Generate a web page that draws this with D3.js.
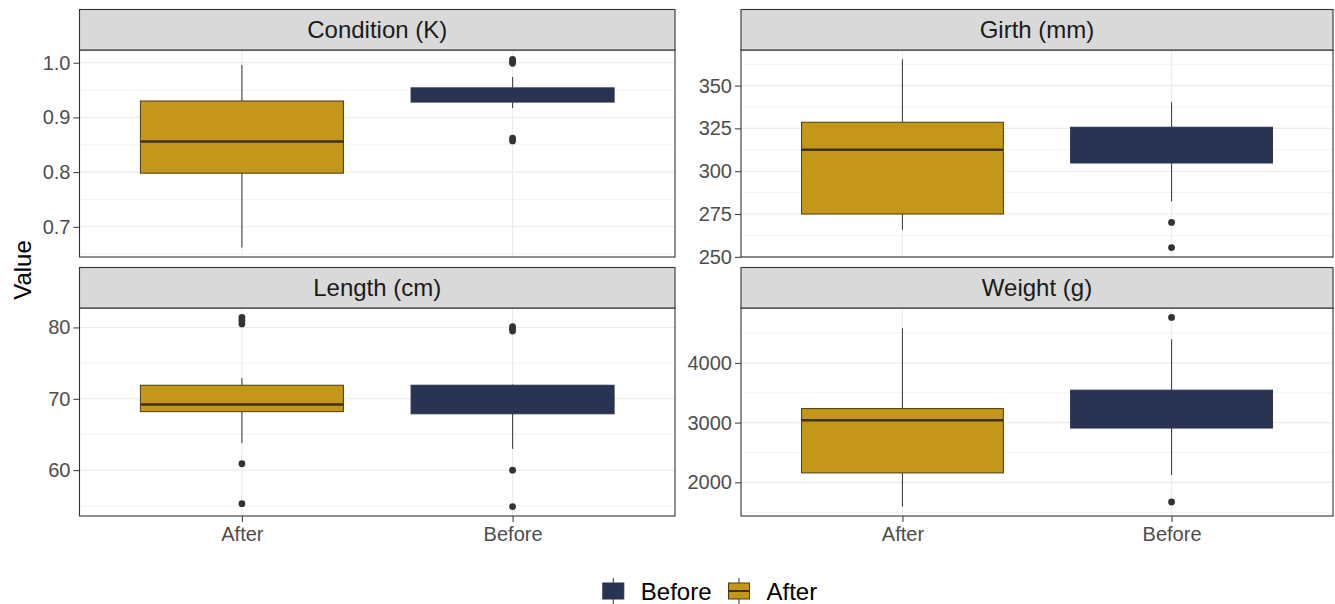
<!DOCTYPE html>
<html lang="en">
<head>
  <meta charset="UTF-8" />
  <title>Before / After boxplots</title>
  <script src="https://d3js.org/d3.v7.min.js"></script>
  <style>
    body {
      margin: 0;
      background: #ffffff;
      font-family: 'Liberation Sans', Arial, sans-serif;
    }
    svg text {
      font-family: 'Liberation Sans', Arial, sans-serif;
    }
  </style>
</head>
<body>
  <div id="chart"></div>

  <script>
    // groups on the x axis and facet titles
    const groups = ["After", "Before"];
    const facetNames = ["Condition (K)", "Girth (mm)", "Length (cm)", "Weight (g)"];

    // box stats: [lower whisker, Q1, median, Q3, upper whisker]
    const conditionAfter = [0.662, 0.798, 0.856, 0.930, 0.996];
    const conditionBefore = [0.917, 0.928, 0.941, 0.954, 0.974];
    const girthAfter = [265.8, 275.0, 312.6, 328.6, 365.3];
    const girthBefore = [282.4, 304.8, 315.0, 325.7, 340.3];
    const lengthAfter = [63.8, 68.2, 69.2, 71.9, 72.9];
    const lengthBefore = [63.0, 67.9, 70.0, 71.9, 72.0];
    const weightAfter = [1595, 2158, 3039, 3235, 4578];
    const weightBefore = [2124, 2909, 3200, 3543, 4393];

    // outliers
    const conditionOutAfter = [];
    const conditionOutBefore = [1.006, 1.003, 0.999, 0.862, 0.857];
    const girthOutAfter = [];
    const girthOutBefore = [270.1, 255.4];
    const lengthOutAfter = [81.4, 81.0, 80.5, 60.9, 55.3];
    const lengthOutBefore = [80.1, 79.8, 79.5, 60.0, 54.9];
    const weightOutAfter = [];
    const weightOutBefore = [4760, 1671];

    // y tick labels per facet
    const conditionTicks = [0.7, 0.8, 0.9, 1.0];
    const girthTicks = [250, 275, 300, 325, 350];
    const lengthTicks = [60, 70, 80];
    const weightTicks = [2000, 3000, 4000];

    // legend order
    const legendOrder = ["Before", "After"];

    const colors = { After: "#C4961A", Before: "#293352" };
    const outline = { After: "#4a3c14", Before: "#293352" };

    const facets = [
      { name: facetNames[0], stats: { After: conditionAfter, Before: conditionBefore },
        out: { After: conditionOutAfter, Before: conditionOutBefore }, ticks: conditionTicks, fmt: d3.format(".1f") },
      { name: facetNames[1], stats: { After: girthAfter, Before: girthBefore },
        out: { After: girthOutAfter, Before: girthOutBefore }, ticks: girthTicks, fmt: d3.format("d") },
      { name: facetNames[2], stats: { After: lengthAfter, Before: lengthBefore },
        out: { After: lengthOutAfter, Before: lengthOutBefore }, ticks: lengthTicks, fmt: d3.format("d") },
      { name: facetNames[3], stats: { After: weightAfter, Before: weightBefore },
        out: { After: weightOutAfter, Before: weightOutBefore }, ticks: weightTicks, fmt: d3.format("d") }
    ];

    const width = 1335;
    const height = 604;

    // panel layout (2 x 2 facet grid)
    const cols = [[79.5, 675], [741, 1333]];
    const rows = [
      { strip: 9.5, top: 50, bottom: 257 },
      { strip: 267.5, top: 308, bottom: 516 }
    ];

    const svg = d3.select("#chart").append("svg")
      .attr("width", width)
      .attr("height", height);

    svg.append("rect")
      .attr("width", width)
      .attr("height", height)
      .attr("fill", "#ffffff");

    facets.forEach((f, i) => {
      const [x0, x1] = cols[i % 2];
      const row = rows[Math.floor(i / 2)];
      const isBottom = Math.floor(i / 2) === 1;

      // free y scale with 5% expansion like ggplot
      const all = groups.flatMap(g => f.stats[g].concat(f.out[g]));
      const lo = d3.min(all), hi = d3.max(all);
      const pad = (hi - lo) * 0.05;
      const y = d3.scaleLinear()
        .domain([lo - pad, hi + pad])
        .range([row.bottom, row.top]);

      const x = d3.scalePoint()
        .domain(groups)
        .range([x0, x1])
        .padding(0.6);
      const boxW = x.step() * 0.75;

      const g = svg.append("g");

      // minor grid lines halfway between ticks
      const step = f.ticks[1] - f.ticks[0];
      const minors = [f.ticks[0] - step / 2].concat(f.ticks.map(t => t + step / 2))
        .filter(v => v >= y.domain()[0] && v <= y.domain()[1]);

      g.selectAll(".minor")
        .data(minors)
        .enter().append("line")
        .attr("x1", x0).attr("x2", x1)
        .attr("y1", d => y(d)).attr("y2", d => y(d))
        .attr("stroke", "#ebebeb")
        .attr("stroke-width", 0.6);

      g.selectAll(".major")
        .data(f.ticks.filter(v => v >= y.domain()[0] && v <= y.domain()[1]))
        .enter().append("line")
        .attr("x1", x0).attr("x2", x1)
        .attr("y1", d => y(d)).attr("y2", d => y(d))
        .attr("stroke", "#ebebeb")
        .attr("stroke-width", 1.1);

      g.selectAll(".vgrid")
        .data(groups)
        .enter().append("line")
        .attr("x1", d => x(d)).attr("x2", d => x(d))
        .attr("y1", row.top).attr("y2", row.bottom)
        .attr("stroke", "#ebebeb")
        .attr("stroke-width", 1.1);

      // boxes
      groups.forEach(grp => {
        const [wl, q1, med, q3, wh] = f.stats[grp];
        const cx = x(grp);

        g.append("line")
          .attr("x1", cx).attr("x2", cx)
          .attr("y1", y(wh)).attr("y2", y(q3))
          .attr("stroke", "#444444")
          .attr("stroke-width", 1.1);
        g.append("line")
          .attr("x1", cx).attr("x2", cx)
          .attr("y1", y(q1)).attr("y2", y(wl))
          .attr("stroke", "#444444")
          .attr("stroke-width", 1.1);

        g.append("rect")
          .attr("x", cx - boxW / 2)
          .attr("y", y(q3))
          .attr("width", boxW)
          .attr("height", y(q1) - y(q3))
          .attr("fill", colors[grp])
          .attr("stroke", outline[grp])
          .attr("stroke-width", 1);

        g.append("line")
          .attr("x1", cx - boxW / 2).attr("x2", cx + boxW / 2)
          .attr("y1", y(med)).attr("y2", y(med))
          .attr("stroke", grp === "After" ? "#3f3210" : outline[grp])
          .attr("stroke-width", 2.5);

        g.selectAll(".out-" + grp)
          .data(f.out[grp])
          .enter().append("circle")
          .attr("cx", cx)
          .attr("cy", d => y(d))
          .attr("r", 3.4)
          .attr("fill", "#333333");
      });

      // panel border
      g.append("rect")
        .attr("x", x0).attr("y", row.top)
        .attr("width", x1 - x0).attr("height", row.bottom - row.top)
        .attr("fill", "none")
        .attr("stroke", "#333333")
        .attr("stroke-width", 1.1);

      // strip
      g.append("rect")
        .attr("x", x0).attr("y", row.strip)
        .attr("width", x1 - x0).attr("height", row.top - row.strip)
        .attr("fill", "#d9d9d9")
        .attr("stroke", "#333333")
        .attr("stroke-width", 1.1);

      g.append("text")
        .attr("x", (x0 + x1) / 2)
        .attr("y", (row.strip + row.top) / 2)
        .attr("dy", "0.36em")
        .attr("text-anchor", "middle")
        .attr("font-size", 24)
        .attr("fill", "#1a1a1a")
        .text(f.name);

      // y axis
      const yAxis = g.append("g")
        .attr("transform", `translate(${x0},0)`)
        .call(d3.axisLeft(y).tickValues(f.ticks).tickFormat(f.fmt).tickSize(6).tickPadding(3));
      yAxis.select(".domain").remove();
      yAxis.selectAll("line").attr("stroke", "#333333");
      yAxis.selectAll("text")
        .attr("font-size", 20)
        .attr("fill", "#4d4d4d");

      // x axis on bottom row only
      if (isBottom) {
        const xAxis = g.append("g")
          .attr("transform", `translate(0,${row.bottom})`)
          .call(d3.axisBottom(x).tickSize(6).tickPadding(5));
        xAxis.select(".domain").remove();
        xAxis.selectAll("line").attr("stroke", "#333333");
        xAxis.selectAll("text")
          .attr("font-size", 20)
          .attr("fill", "#4d4d4d");
      }
    });

    // y axis title
    svg.append("text")
      .attr("transform", "translate(31,270) rotate(-90)")
      .attr("text-anchor", "middle")
      .attr("font-size", 24)
      .attr("fill", "#000000")
      .text("Value");

    // legend
    const legend = svg.append("g");
    let lx = 0;
    legendOrder.forEach(grp => {
      const item = legend.append("g").attr("transform", `translate(${lx},0)`);
      item.append("line")
        .attr("x1", 10.5).attr("x2", 10.5)
        .attr("y1", -13).attr("y2", 13)
        .attr("stroke", "#333333")
        .attr("stroke-width", 1);
      item.append("rect")
        .attr("x", 0).attr("y", -8)
        .attr("width", 21).attr("height", 16)
        .attr("fill", colors[grp])
        .attr("stroke", outline[grp]);
      if (grp === "After") {
        item.append("line")
          .attr("x1", 0).attr("x2", 21)
          .attr("y1", 0).attr("y2", 0)
          .attr("stroke", "#3f3210")
          .attr("stroke-width", 2);
      }
      const t = item.append("text")
        .attr("x", 38)
        .attr("dy", "0.36em")
        .attr("font-size", 24)
        .attr("fill", "#000000")
        .text(grp);
      lx += 38 + t.node().getComputedTextLength() + 17;
    });
    const lb = legend.node().getBBox();
    legend.attr("transform", `translate(${710 - lb.width / 2 - lb.x},591)`);
  </script>
</body>
</html>
